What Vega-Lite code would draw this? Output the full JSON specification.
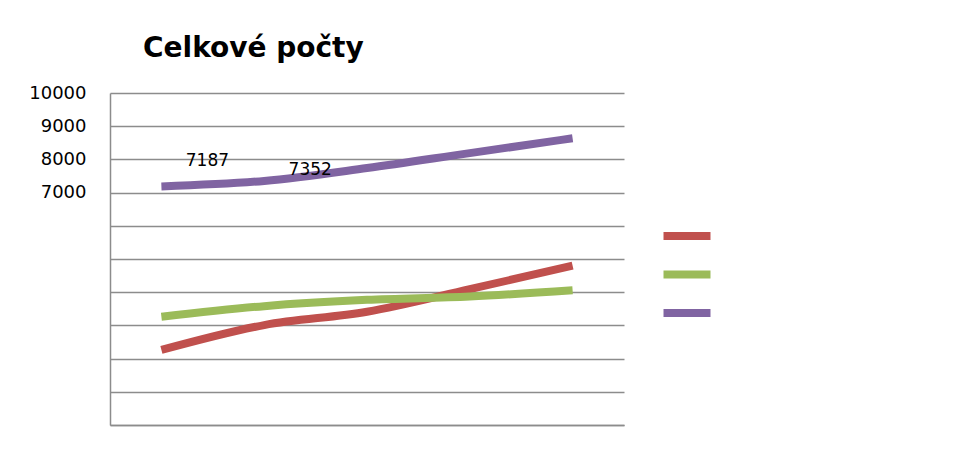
{
  "$schema": "https://vega.github.io/schema/vega-lite/v6.json",
  "autosize": "none",
  "width": 514,
  "height": 332,
  "padding": {"left": 110, "top": 93, "right": 340, "bottom": 48},
  "background": "white",
  "title": {
    "text": "Celkové počty",
    "anchor": "start",
    "frame": "group",
    "dx": 33,
    "dy": 36,
    "offset": 35,
    "baseline": "alphabetic",
    "font": "DejaVu Sans",
    "fontSize": 28,
    "fontWeight": "bold",
    "color": "black"
  },
  "config": {
    "view": {"stroke": null},
    "font": "DejaVu Sans"
  },
  "data": {
    "values": [
      {"rok": "1", "rada": "Řada 2", "pocet": 2260},
      {"rok": "2", "rada": "Řada 2", "pocet": 3010},
      {"rok": "3", "rada": "Řada 2", "pocet": 3410},
      {"rok": "4", "rada": "Řada 2", "pocet": 4090},
      {"rok": "5", "rada": "Řada 2", "pocet": 4800},
      {"rok": "1", "rada": "Řada 3", "pocet": 3260},
      {"rok": "2", "rada": "Řada 3", "pocet": 3580},
      {"rok": "3", "rada": "Řada 3", "pocet": 3770},
      {"rok": "4", "rada": "Řada 3", "pocet": 3870},
      {"rok": "5", "rada": "Řada 3", "pocet": 4060},
      {"rok": "1", "rada": "Řada 4", "pocet": 7187},
      {"rok": "2", "rada": "Řada 4", "pocet": 7352},
      {"rok": "3", "rada": "Řada 4", "pocet": 7740},
      {"rok": "4", "rada": "Řada 4", "pocet": 8190},
      {"rok": "5", "rada": "Řada 4", "pocet": 8635}
    ]
  },
  "encoding": {
    "x": {
      "field": "rok",
      "type": "ordinal",
      "scale": {"type": "point", "padding": 0.5},
      "axis": {
        "title": null,
        "labels": false,
        "ticks": false,
        "grid": false,
        "domainColor": "#8c8c8c",
        "domainWidth": 1.5
      }
    },
    "y": {
      "field": "pocet",
      "type": "quantitative",
      "scale": {"domain": [0, 10000], "nice": false, "zero": true},
      "axis": {
        "title": null,
        "values": [0, 1000, 2000, 3000, 4000, 5000, 6000, 7000, 8000, 9000, 10000],
        "labelExpr": "datum.value >= 7000 ? format(datum.value, 'd') : ''",
        "ticks": false,
        "labelPadding": 24,
        "labelFontSize": 18,
        "labelColor": "black",
        "labelFont": "DejaVu Sans",
        "grid": true,
        "gridColor": "#8c8c8c",
        "gridWidth": 1.5,
        "domainColor": "#8c8c8c",
        "domainWidth": 1.5
      }
    }
  },
  "layer": [
    {
      "mark": {"type": "line", "interpolate": "monotone", "strokeWidth": 8, "strokeCap": "butt"},
      "encoding": {
        "color": {
          "field": "rada",
          "type": "nominal",
          "scale": {"domain": ["Řada 2", "Řada 3", "Řada 4"], "range": ["#C0504D", "#9BBB59", "#8064A2"]},
          "legend": {
            "title": null,
            "orient": "none",
            "legendX": 561,
            "legendY": 127,
            "padding": 0,
            "rowPadding": 6.5,
            "symbolType": "M-2,0L2,0",
            "symbolSize": 552,
            "symbolStrokeWidth": 8,
            "labelOpacity": 0
          }
        }
      }
    },
    {
      "transform": [{"filter": "datum.rada == 'Řada 4' && datum.rok == '1'"}],
      "mark": {"type": "text", "dx": 46, "dy": -25, "fontSize": 17, "font": "DejaVu Sans", "color": "black"},
      "encoding": {"text": {"field": "pocet", "type": "quantitative", "format": "d"}}
    },
    {
      "transform": [{"filter": "datum.rada == 'Řada 4' && datum.rok == '2'"}],
      "mark": {"type": "text", "dx": 46, "dy": -11, "fontSize": 17, "font": "DejaVu Sans", "color": "black"},
      "encoding": {"text": {"field": "pocet", "type": "quantitative", "format": "d"}}
    }
  ]
}
